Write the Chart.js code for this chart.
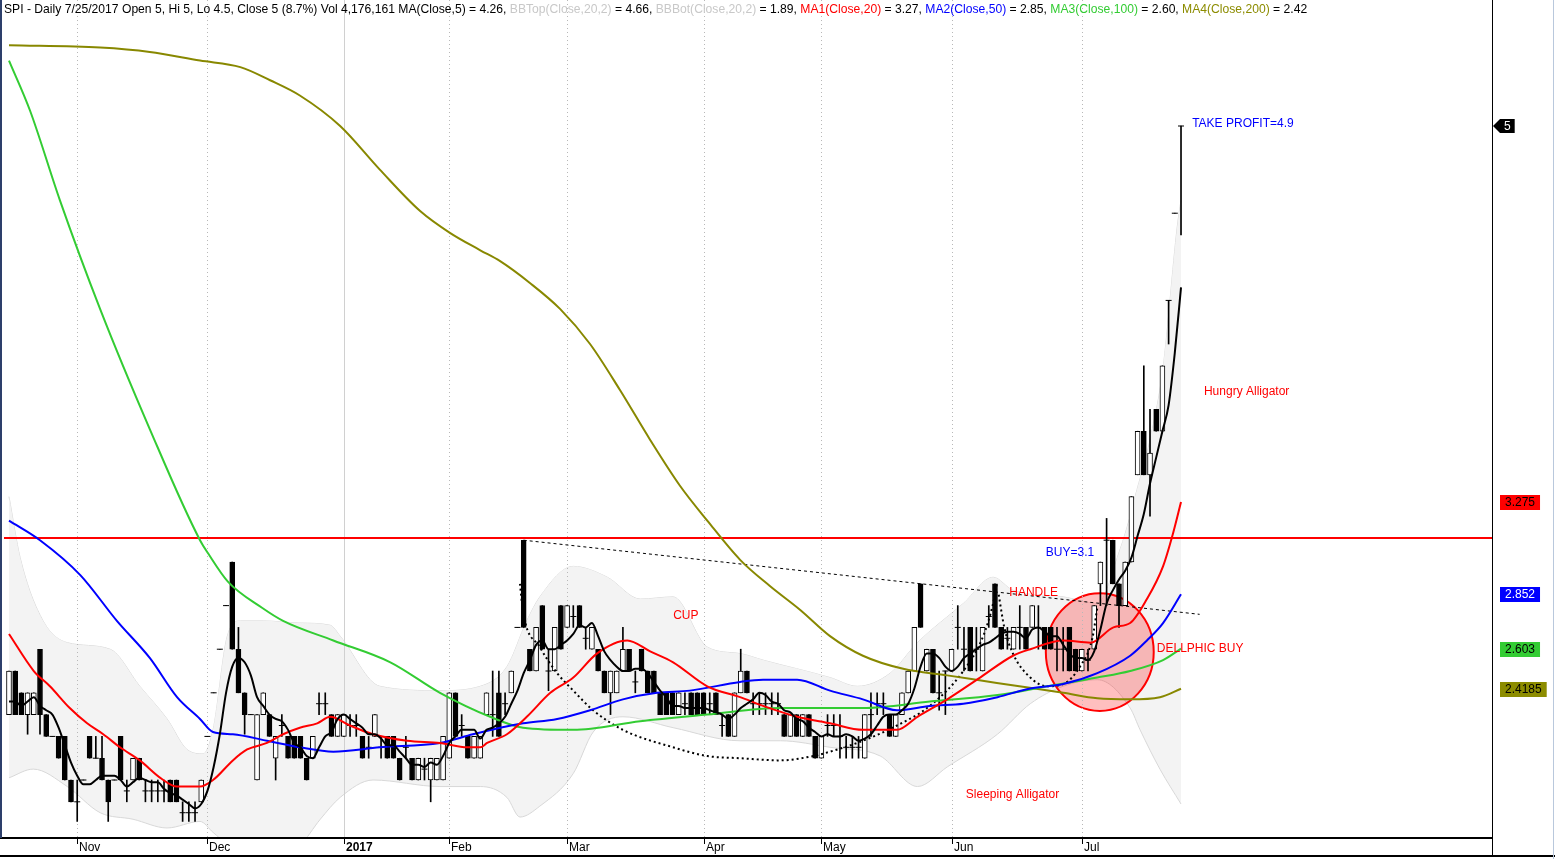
<!DOCTYPE html>
<html>
<head>
<meta charset="utf-8">
<title>SPI - Daily</title>
<script src="https://cdn.jsdelivr.net/npm/chart.js@4.4.1/dist/chart.umd.min.js"></script>
<style>
  html, body { margin: 0; padding: 0; background: #fff; }
  canvas { display: block; }
</style>
</head>
<body>
<canvas id="chart" width="1555" height="859"></canvas>
<script>
// daily bars, Oct 2016 .. 7/25/2017 (one entry per trading day)
const opens = [
  2.30,2.50,2.40,2.30,2.30,2.60,2.30,2.20,2.20,2.20,
  2.00,1.90,2.00,2.20,2.10,2.10,2.00,2.00,2.20,1.95,
  2.00,2.10,1.95,1.95,1.95,1.95,2.00,2.00,1.85,1.85,
  1.85,1.90,2.20,2.40,2.60,2.80,3.00,2.60,2.40,2.30,
  2.00,2.30,2.30,2.10,2.25,2.20,2.20,2.20,2.10,2.10,
  2.35,2.35,2.30,2.20,2.20,2.25,2.25,2.20,2.15,2.20,
  2.15,2.20,2.20,2.10,2.15,2.10,2.00,2.05,2.00,2.00,
  2.00,2.10,2.40,2.25,2.20,2.10,2.10,2.30,2.30,2.40,
  2.35,2.40,2.70,3.10,2.60,2.50,2.80,2.50,2.50,2.80,
  2.70,2.75,2.80,2.65,2.60,2.60,2.50,2.40,2.40,2.50,
  2.60,2.45,2.60,2.50,2.50,2.40,2.40,2.40,2.30,2.35,
  2.40,2.40,2.40,2.35,2.40,2.25,2.30,2.20,2.40,2.50,
  2.35,2.35,2.35,2.35,2.35,2.30,2.20,2.30,2.20,2.30,
  2.20,2.10,2.25,2.25,2.20,2.15,2.15,2.15,2.10,2.30,
  2.35,2.35,2.30,2.20,2.30,2.40,2.50,2.90,2.50,2.60,
  2.40,2.50,2.50,2.70,2.60,2.70,2.60,2.50,2.75,2.90,
  2.70,2.65,2.60,2.70,2.70,2.70,2.70,2.70,2.70,2.60,
  2.60,2.70,2.60,2.50,2.55,2.60,2.90,3.10,3.10,2.90,
  2.80,3.00,3.40,3.60,3.40,3.70,3.60,4.20,4.60,5.00
];
const highs = [
  2.50,2.50,2.40,2.40,2.40,2.60,2.30,2.20,2.20,2.20,
  2.00,2.00,2.00,2.20,2.20,2.20,2.00,2.00,2.20,2.00,
  2.10,2.10,2.00,2.00,2.00,2.00,2.00,2.00,1.90,1.90,
  1.90,2.00,2.20,2.40,2.60,2.80,3.00,2.70,2.40,2.30,
  2.30,2.40,2.30,2.20,2.30,2.20,2.20,2.20,2.10,2.20,
  2.40,2.40,2.30,2.30,2.30,2.30,2.30,2.20,2.20,2.30,
  2.20,2.20,2.20,2.10,2.20,2.10,2.10,2.10,2.10,2.10,
  2.20,2.40,2.40,2.30,2.20,2.20,2.20,2.40,2.50,2.50,
  2.40,2.50,2.70,3.10,2.60,2.70,2.80,2.60,2.70,2.80,
  2.80,2.80,2.80,2.70,2.70,2.60,2.50,2.50,2.50,2.70,
  2.60,2.50,2.60,2.50,2.50,2.40,2.40,2.40,2.40,2.40,
  2.40,2.40,2.40,2.40,2.40,2.30,2.30,2.40,2.60,2.50,
  2.40,2.40,2.40,2.40,2.40,2.30,2.30,2.30,2.30,2.30,
  2.20,2.20,2.30,2.30,2.30,2.20,2.20,2.20,2.30,2.40,
  2.40,2.40,2.30,2.30,2.40,2.50,2.70,2.90,2.60,2.60,
  2.50,2.50,2.60,2.80,2.70,2.70,2.70,2.70,2.80,2.90,
  2.70,2.70,2.70,2.80,2.70,2.80,2.80,2.70,2.70,2.70,
  2.70,2.70,2.60,2.60,2.60,2.80,3.00,3.20,3.10,2.90,
  3.00,3.30,3.60,3.90,3.70,3.70,3.90,4.20,4.60,5.00
];
const lows = [
  2.30,2.30,2.30,2.21,2.30,2.21,2.20,2.20,2.10,2.00,
  1.90,1.81,2.00,2.10,2.10,2.00,1.81,2.00,2.00,1.90,
  2.00,2.00,1.90,1.90,1.90,1.90,1.90,1.90,1.81,1.81,
  1.81,1.90,2.20,2.40,2.60,2.80,2.60,2.40,2.21,2.30,
  2.00,2.30,2.20,2.00,2.20,2.10,2.10,2.10,2.00,2.10,
  2.30,2.30,2.20,2.20,2.20,2.20,2.20,2.10,2.10,2.20,
  2.10,2.10,2.10,2.00,2.10,2.00,2.00,2.00,1.90,2.00,
  2.00,2.10,2.20,2.20,2.10,2.10,2.10,2.30,2.20,2.20,
  2.30,2.40,2.70,2.70,2.50,2.50,2.60,2.41,2.50,2.60,
  2.70,2.70,2.70,2.60,2.60,2.50,2.40,2.30,2.40,2.50,
  2.50,2.40,2.50,2.40,2.40,2.30,2.30,2.30,2.30,2.30,
  2.30,2.30,2.30,2.30,2.30,2.20,2.20,2.20,2.40,2.40,
  2.30,2.30,2.30,2.30,2.30,2.20,2.20,2.20,2.20,2.20,
  2.10,2.10,2.20,2.20,2.10,2.10,2.10,2.10,2.10,2.20,
  2.30,2.30,2.20,2.20,2.30,2.40,2.50,2.70,2.50,2.40,
  2.32,2.30,2.50,2.60,2.50,2.50,2.50,2.50,2.70,2.70,
  2.60,2.60,2.60,2.60,2.60,2.70,2.60,2.60,2.60,2.50,
  2.50,2.50,2.50,2.50,2.50,2.60,2.80,2.80,2.90,2.70,
  2.80,3.00,3.40,3.40,3.21,3.60,3.60,4.00,4.60,4.50
];
const closes = [
  2.50,2.30,2.30,2.40,2.40,2.30,2.20,2.20,2.10,2.00,
  1.90,1.90,2.00,2.10,2.10,2.00,1.90,2.00,2.00,1.95,
  2.10,2.00,1.95,1.95,1.95,1.95,1.90,1.90,1.85,1.85,
  1.85,2.00,2.20,2.40,2.60,2.80,2.60,2.40,2.30,2.30,
  2.30,2.40,2.20,2.20,2.25,2.10,2.10,2.10,2.00,2.20,
  2.35,2.35,2.20,2.30,2.30,2.25,2.25,2.10,2.15,2.30,
  2.15,2.10,2.10,2.00,2.15,2.00,2.10,2.05,2.10,2.10,
  2.20,2.40,2.20,2.25,2.10,2.20,2.20,2.40,2.30,2.20,
  2.35,2.50,2.70,2.70,2.50,2.70,2.60,2.50,2.70,2.60,
  2.80,2.75,2.70,2.65,2.70,2.50,2.40,2.50,2.50,2.60,
  2.50,2.45,2.50,2.40,2.40,2.30,2.30,2.30,2.40,2.35,
  2.30,2.30,2.30,2.35,2.30,2.25,2.20,2.40,2.50,2.40,
  2.35,2.35,2.35,2.35,2.35,2.20,2.30,2.20,2.30,2.20,
  2.10,2.20,2.25,2.25,2.20,2.15,2.15,2.15,2.30,2.30,
  2.35,2.35,2.20,2.30,2.40,2.50,2.70,2.70,2.60,2.40,
  2.40,2.50,2.60,2.70,2.60,2.50,2.60,2.70,2.75,2.70,
  2.60,2.65,2.70,2.70,2.60,2.80,2.70,2.60,2.60,2.60,
  2.60,2.50,2.50,2.60,2.55,2.80,3.00,3.10,2.90,2.80,
  3.00,3.30,3.60,3.40,3.50,3.60,3.90,4.20,4.60,5.00
];
const ma5 = [
  2.36,2.36,2.34,2.36,2.38,2.34,2.32,2.30,2.24,2.16,
  2.08,2.02,1.98,1.98,2.00,2.02,2.02,2.02,2.00,1.97,
  1.99,2.01,2.00,1.99,1.99,1.96,1.94,1.93,1.91,1.89,
  1.87,1.89,1.95,2.06,2.21,2.40,2.52,2.56,2.54,2.48,
  2.38,2.34,2.30,2.28,2.27,2.23,2.17,2.15,2.11,2.10,
  2.15,2.20,2.22,2.28,2.30,2.28,2.26,2.24,2.21,2.21,
  2.19,2.16,2.16,2.13,2.10,2.07,2.07,2.06,2.08,2.07,
  2.11,2.17,2.20,2.23,2.23,2.23,2.19,2.23,2.24,2.26,
  2.29,2.35,2.41,2.49,2.55,2.62,2.64,2.60,2.60,2.62,
  2.64,2.67,2.71,2.70,2.72,2.66,2.59,2.55,2.52,2.50,
  2.50,2.51,2.51,2.49,2.45,2.41,2.38,2.34,2.34,2.33,
  2.33,2.33,2.33,2.32,2.31,2.30,2.28,2.30,2.33,2.35,
  2.37,2.40,2.39,2.36,2.35,2.32,2.31,2.28,2.27,2.24,
  2.22,2.20,2.21,2.20,2.20,2.21,2.20,2.18,2.19,2.21,
  2.25,2.29,2.30,2.30,2.32,2.35,2.42,2.52,2.58,2.58,
  2.56,2.52,2.50,2.52,2.56,2.58,2.60,2.62,2.63,2.65,
  2.67,2.68,2.68,2.67,2.65,2.69,2.70,2.68,2.66,2.66,
  2.62,2.58,2.56,2.56,2.55,2.59,2.69,2.81,2.87,2.92,
  2.96,3.02,3.12,3.22,3.36,3.48,3.60,3.72,3.96,4.26
];

// slower averages and bands, read as [bar index, value]
const ma20Pts = [[0,2.67],[4,2.50],[6.6,2.43],[9.8,2.33],[12.6,2.26],[15.2,2.21],[17.9,2.15],[21.1,2.09],[24.4,2.01],[27.1,1.97],[30.8,1.97],[32.9,2.00],[36.1,2.09],[38.4,2.14],[41.6,2.17],[44.2,2.21],[46.9,2.24],[49.7,2.26],[51.8,2.29],[55,2.25],[58.7,2.21],[64.2,2.18],[69.5,2.17],[73.9,2.15],[76,2.15],[77.1,2.17],[80.3,2.21],[83.5,2.29],[87.3,2.40],[91,2.47],[94.8,2.58],[99.7,2.64],[103.4,2.59],[107.1,2.54],[112.6,2.43],[117.9,2.38],[121.6,2.34],[127.1,2.29],[132.4,2.26],[137.7,2.23],[143.2,2.23],[146.5,2.29],[151.3,2.37],[156.6,2.47],[161.9,2.57],[164.7,2.60],[170,2.64],[174.4,2.63],[178.1,2.70],[180.8,2.72],[183.5,2.83],[186.1,2.98],[187.7,3.13],[189,3.275]];
const ma50Pts = [[0,3.19],[5,3.10],[11.5,2.94],[17.4,2.73],[22.7,2.56],[27.1,2.38],[30.8,2.28],[32.9,2.22],[36.1,2.21],[41.6,2.18],[46.9,2.15],[52.3,2.13],[59.8,2.15],[69.5,2.17],[74.8,2.21],[79.2,2.24],[82.9,2.26],[88.4,2.28],[93.7,2.32],[99,2.37],[104.5,2.40],[109.8,2.41],[117.9,2.45],[121.6,2.46],[127.1,2.46],[132.4,2.41],[137.7,2.37],[143.2,2.32],[148.5,2.34],[153.9,2.35],[159.4,2.38],[164.7,2.42],[170,2.44],[175.5,2.49],[180.8,2.57],[183.5,2.64],[186.1,2.72],[189,2.852]];
const ma100Pts = [[0,5.30],[3.4,5.07],[8.2,4.66],[14.7,4.16],[22.7,3.61],[30.8,3.10],[32.1,3.04],[35.3,2.91],[40.8,2.79],[44.2,2.73],[52.3,2.64],[61.5,2.54],[69.5,2.40],[77.6,2.29],[82.9,2.24],[91,2.23],[101.8,2.27],[112.6,2.30],[124.4,2.33],[137.7,2.33],[148.5,2.36],[159.4,2.39],[167.4,2.43],[175.5,2.47],[180.8,2.50],[186.1,2.55],[189,2.603]];
const ma200Pts = [[0,5.37],[14.7,5.36],[22.7,5.34],[30.8,5.30],[37.3,5.27],[42.1,5.21],[46.9,5.14],[53.4,5.00],[59.8,4.80],[66.3,4.61],[71.1,4.51],[76,4.43],[79.2,4.38],[84,4.28],[88.9,4.16],[93.7,4.00],[98.5,3.79],[103.4,3.56],[108.2,3.35],[112.6,3.19],[117.9,3.01],[122.7,2.89],[127.6,2.78],[132.4,2.66],[137.7,2.57],[144.2,2.51],[151.3,2.48],[159.3,2.445],[170,2.40],[175.5,2.375],[180.8,2.37],[185.6,2.38],[189,2.4185]];
const bbTopPts = [[0,3.30],[1.8,3.02],[5.5,2.73],[9.4,2.63],[16.3,2.60],[21.1,2.43],[25.5,2.28],[28.7,2.14],[31.3,2.12],[32.9,2.23],[35.2,2.66],[37.3,2.73],[40.8,2.73],[46.9,2.72],[51.8,2.71],[53.4,2.66],[59.8,2.43],[69.5,2.41],[76,2.43],[80.3,2.52],[83.5,2.73],[85.6,2.84],[91,2.98],[96.5,2.93],[101.8,2.83],[107.1,2.84],[112.6,2.61],[117.9,2.58],[121.6,2.55],[132.4,2.47],[136.8,2.43],[142.1,2.49],[146.5,2.63],[153.9,2.81],[158.7,2.93],[161.9,2.87],[170,2.84],[175.5,2.81],[179.2,3.06],[180.8,3.21],[181.6,3.30],[184,3.56],[186.1,3.89],[188.4,4.54],[189,4.66]];
const bbBotPts = [[0,2.01],[3.9,2.05],[9.4,1.97],[14.7,1.85],[20,1.82],[25.5,1.78],[30.8,1.81],[32.9,1.76],[37.3,1.66],[42.1,1.64],[46.9,1.70],[50.2,1.82],[53.4,1.92],[58.7,2.00],[69.5,1.97],[76,1.97],[80.3,1.92],[82.4,1.83],[85.6,1.88],[91,2.03],[94.2,2.22],[99,2.29],[107.1,2.24],[117.9,2.18],[124.4,2.18],[132.4,2.15],[140.5,2.11],[146.5,1.97],[151.3,2.06],[159.4,2.21],[164.7,2.35],[170,2.43],[175.5,2.46],[180.8,2.33],[182.4,2.23],[185.6,2.05],[189,1.89]];

// hand-drawn pattern lines
const cupPts = [[82.4,2.90],[82.9,2.77],[85.6,2.61],[88.4,2.49],[91,2.41],[94.2,2.32],[99,2.23],[107.1,2.15],[112.6,2.11],[117.9,2.10],[124.3,2.09],[129.7,2.11],[132.4,2.13],[137.7,2.18],[143.2,2.25],[148.5,2.34],[153.9,2.50],[157.1,2.66],[158.7,2.81],[159.3,2.90]];
const handlePts = [[159.6,2.85],[160.5,2.70],[161.9,2.58],[164.7,2.47],[167.4,2.43],[170,2.44],[172.7,2.52],[174.7,2.65],[175.5,2.79]];
const trendPts = [[83,3.10],[192,2.76]];
const buyLevel = 3.11;

// axis
const monthIdx = [11, 32, 54, 71, 90, 112, 131, 152, 173];
const monthLabels = ['Nov', 'Dec', '2017', 'Feb', 'Mar', 'Apr', 'May', 'Jun', 'Jul'];

// right-hand price flags
const flagValues = [5, 3.275, 2.852, 2.603, 2.4185];
const flagLabels = ['5', '3.275', '2.852', '2.603', '2.4185'];
const flagColors = [['#000', '#fff'], ['#ff0000', '#000'], ['#0000ff', '#fff'], ['#33cc33', '#000'], ['#8c8c00', '#000']];

const notes = [
  { idx: 190.8, val: 5.018, text: 'TAKE PROFIT=4.9', color: '#0000ff' },
  { idx: 192.7, val: 3.79, text: 'Hungry Alligator', color: '#ff0000' },
  { idx: 167.2, val: 3.05, text: 'BUY=3.1', color: '#0000ff' },
  { idx: 161.3, val: 2.867, text: 'HANDLE', color: '#ff0000' },
  { idx: 107.1, val: 2.76, text: 'CUP', color: '#ff0000' },
  { idx: 185.1, val: 2.61, text: 'DELLPHIC BUY', color: '#ff0000' },
  { idx: 154.3, val: 1.94, text: 'Sleeping Alligator', color: '#ff0000' },
];
const zone = { idx: 175.9, val: 2.587, rIdx: 8.7, rVal: 0.27 };

const header = [
  ['SPI - Daily 7/25/2017 Open 5, Hi 5, Lo 4.5, Close 5 (8.7%) Vol 4,176,161 MA(Close,5) = 4.26, ', '#000'],
  ['BBTop(Close,20,2)', '#c8c8c8'], [' = 4.66, ', '#000'],
  ['BBBot(Close,20,2)', '#c8c8c8'], [' = 1.89, ', '#000'],
  ['MA1(Close,20)', '#ff0000'], [' = 3.27, ', '#000'],
  ['MA2(Close,50)', '#0000ff'], [' = 2.85, ', '#000'],
  ['MA3(Close,100)', '#33cc33'], [' = 2.60, ', '#000'],
  ['MA4(Close,200)', '#8c8c00'], [' = 2.42', '#000'],
];

const FONT = "12px Arial, 'Liberation Sans', sans-serif";
const HEADER_FONT = "12.13px Arial, 'Liberation Sans', sans-serif";
const pts = (arr) => arr.map(([x, y]) => ({ x, y }));

const wicks = lows.map((l, i) => ({ x: i, y: [l, highs[i]] }));
const upBodies = [], downBodies = [], flats = [];
opens.forEach((o, i) => {
  const c = closes[i];
  if (c > o) upBodies.push({ x: i, y: [o, c] });
  else if (c < o) downBodies.push({ x: i, y: [c, o] });
  else flats.push({ x: i, y: c });
});

function line(data, color, width, order, extra) {
  return Object.assign({
    type: 'line', data, borderColor: color, borderWidth: width, order,
    pointRadius: 0, fill: false, tension: 0.4, cubicInterpolationMode: 'monotone',
  }, extra || {});
}
function body(data, fillColor, order) {
  return {
    type: 'bar', data, backgroundColor: fillColor, borderColor: '#000', borderWidth: 1,
    borderSkipped: false, barThickness: 5, grouped: false, order,
  };
}

const overlay = {
  id: 'overlay',
  afterDatasetDraw(chart, args) {
    if (args.index !== 1) return;
    const { ctx, chartArea: a, scales: { x, y } } = chart;
    ctx.save();
    const cx = x.getPixelForValue(zone.idx), cy = y.getPixelForValue(zone.val);
    const rx = x.getPixelForValue(zone.idx + zone.rIdx) - cx;
    const ry = y.getPixelForValue(zone.val - zone.rVal) - cy;
    ctx.beginPath();
    ctx.ellipse(cx, cy, rx, ry, 0, 0, Math.PI * 2);
    ctx.fillStyle = 'rgba(255,0,0,0.25)';
    ctx.fill();
    ctx.lineWidth = 2;
    ctx.strokeStyle = '#ff0000';
    ctx.stroke();

    ctx.lineWidth = 1;
    monthIdx.forEach((m, i) => {
      const px = Math.round(x.getPixelForValue(m)) + 0.5;
      ctx.beginPath();
      ctx.setLineDash(monthLabels[i] === '2017' ? [] : [1, 3]);
      ctx.strokeStyle = monthLabels[i] === '2017' ? '#d0d0d0' : '#b8b8b8';
      ctx.moveTo(px, a.top);
      ctx.lineTo(px, a.bottom);
      ctx.stroke();
    });
    ctx.restore();
  },
  afterDraw(chart) {
    const { ctx, chartArea: a, scales: { x, y } } = chart;
    const W = chart.width, H = chart.height;
    ctx.save();
    ctx.setLineDash([]);

    // frame
    ctx.fillStyle = '#000';
    ctx.fillRect(0, a.bottom - 1, a.right + 1, 2);
    ctx.fillRect(0, H - 4, W, 2);
    ctx.fillRect(a.right, 0, 1, H - 2);
    ctx.fillStyle = '#2d3f6b';
    ctx.fillRect(0, 0, 2, a.bottom);
    ctx.fillStyle = '#b9c8dc';
    ctx.fillRect(W - 2, 0, 1, H);

    // month ticks and labels
    ctx.textBaseline = 'middle';
    ctx.textAlign = 'left';
    monthIdx.forEach((m, i) => {
      const px = Math.round(x.getPixelForValue(m));
      ctx.fillStyle = '#000';
      ctx.fillRect(px, a.bottom, 1, 6);
      ctx.font = monthLabels[i] === '2017' ? "bold " + FONT : FONT;
      ctx.fillText(monthLabels[i], px + 2, a.bottom + 10);
    });

    // notes
    ctx.font = FONT;
    notes.forEach((n) => {
      ctx.fillStyle = n.color;
      ctx.fillText(n.text, x.getPixelForValue(n.idx), y.getPixelForValue(n.val) + 1.5);
    });

    // price flags on the right axis
    flagValues.forEach((v, i) => {
      const py = Math.round(y.getPixelForValue(v));
      const tw = ctx.measureText(flagLabels[i]).width;
      const bx = a.right + 8;
      ctx.fillStyle = flagColors[i][0];
      if (i === 0) {
        const bw = tw + 8;
        ctx.beginPath();
        ctx.moveTo(a.right + 1, py);
        ctx.lineTo(bx, py - 7);
        ctx.lineTo(bx + bw, py - 7);
        ctx.lineTo(bx + bw, py + 7);
        ctx.lineTo(bx, py + 7);
        ctx.closePath();
        ctx.fill();
        ctx.fillStyle = flagColors[i][1];
        ctx.fillText(flagLabels[i], bx + 4, py + 1);
      } else {
        const bw = tw + 10;
        ctx.fillRect(bx, py - 7, bw, 15);
        ctx.fillStyle = flagColors[i][1];
        ctx.fillText(flagLabels[i], bx + 5, py + 1);
      }
    });

    // header line
    ctx.font = HEADER_FONT;
    let hx = 4;
    header.forEach(([t, c]) => {
      ctx.fillStyle = c;
      ctx.fillText(t, hx, 10);
      hx += ctx.measureText(t).width;
    });
    ctx.restore();
  },
};

new Chart(document.getElementById('chart'), {
  type: 'line',
  data: {
    datasets: [
      line(pts(bbTopPts), '#d8d8d8', 1, 30),
      line(pts(bbBotPts), '#d8d8d8', 1, 29, { fill: '-1', backgroundColor: '#f3f3f3' }),
      line([{ x: -1, y: buyLevel }, { x: 240, y: buyLevel }], '#ff0000', 2, 25, { tension: 0 }),
      line(pts(trendPts), '#000', 1, 24, { tension: 0, borderDash: [3, 3] }),
      { type: 'bar', data: wicks, backgroundColor: '#000', barThickness: 1, grouped: false, order: 20 },
      body(upBodies, '#fff', 19),
      body(downBodies, '#000', 18),
      { type: 'line', data: flats, showLine: false, pointStyle: 'line', pointRadius: 3,
        pointBorderWidth: 1, pointBorderColor: '#000', order: 17 },
      line(pts(cupPts), '#000', 2, 10, { borderDash: [2, 3] }),
      line(pts(handlePts), '#000', 2, 10, { borderDash: [2, 3] }),
      line(pts(ma200Pts), '#888800', 2, 6),
      line(pts(ma100Pts), '#33cc33', 2, 5),
      line(pts(ma50Pts), '#0000ff', 2, 4),
      line(pts(ma20Pts), '#ff0000', 2, 3),
      line(ma5.map((v, i) => ({ x: i, y: v })), '#000', 2, 2, { tension: 0 }),
    ],
  },
  options: {
    responsive: false,
    devicePixelRatio: 1,
    animation: false,
    events: [],
    layout: { autoPadding: false, padding: { left: 4, right: 63, top: 0, bottom: 21 } },
    plugins: { legend: { display: false }, tooltip: { enabled: false } },
    scales: {
      x: { type: 'linear', display: false, min: -0.806, max: 239.15, offset: false },
      y: { type: 'linear', display: false, min: 1.734, max: 5.578 },
    },
  },
  plugins: [overlay],
});
</script>
</body>
</html>
